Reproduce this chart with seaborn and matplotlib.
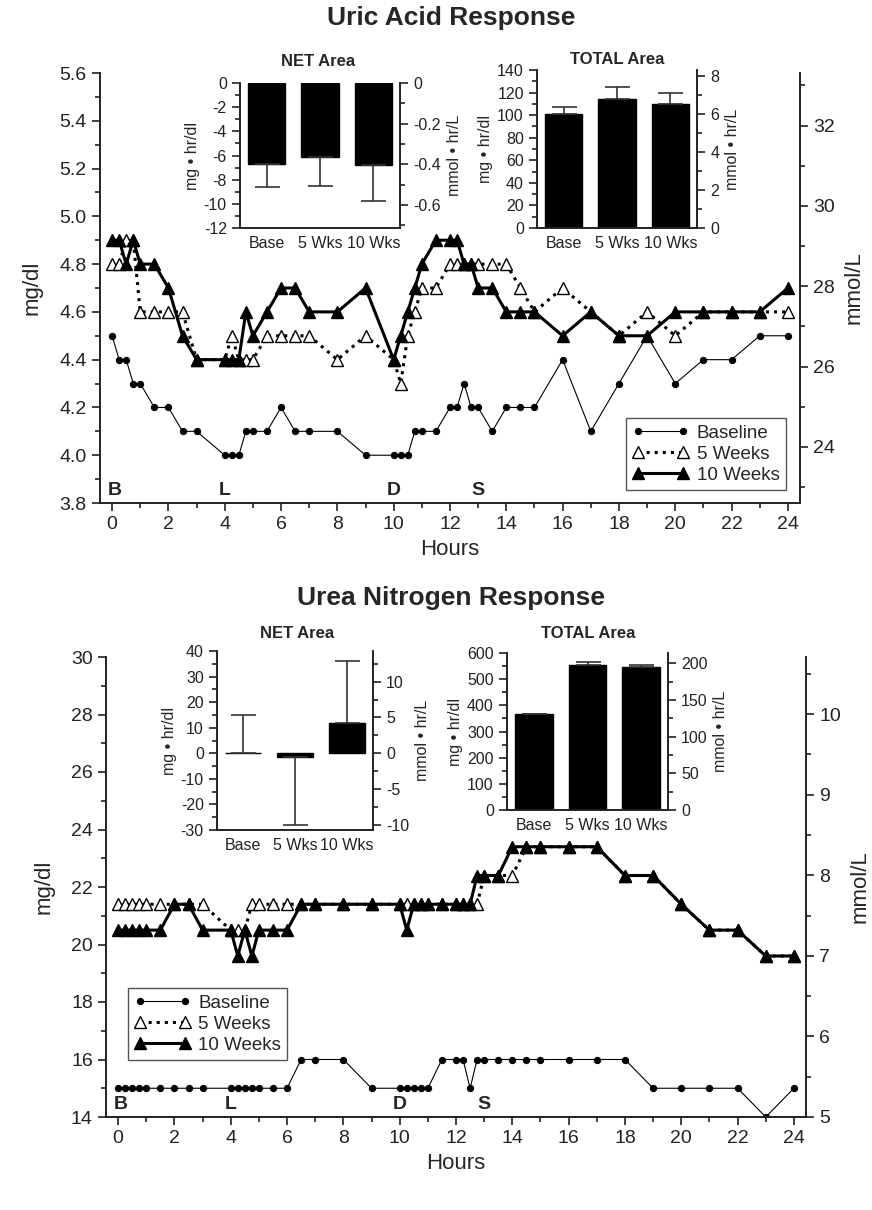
import matplotlib
matplotlib.use("Agg")
import matplotlib.pyplot as plt
from matplotlib.ticker import MultipleLocator, FuncFormatter
import seaborn as sns

# sampling times (hours)
hours = [0, 0.25, 0.5, 0.75, 1, 1.5, 2, 2.5, 3,
         4, 4.25, 4.5, 4.75, 5, 5.5, 6, 6.5, 7, 8, 9,
         10, 10.25, 10.5, 10.75, 11, 11.5, 12, 12.25, 12.5, 12.75, 13, 13.5, 14, 14.5, 15,
         16, 17, 18, 19, 20, 21, 22, 23, 24]

# uric acid, mg/dl
uric_base = [4.5, 4.4, 4.4, 4.3, 4.3, 4.2, 4.2, 4.1, 4.1,
             4.0, 4.0, 4.0, 4.1, 4.1, 4.1, 4.2, 4.1, 4.1, 4.1, 4.0,
             4.0, 4.0, 4.0, 4.1, 4.1, 4.1, 4.2, 4.2, 4.3, 4.2, 4.2, 4.1, 4.2, 4.2, 4.2,
             4.4, 4.1, 4.3, 4.5, 4.3, 4.4, 4.4, 4.5, 4.5]
uric_5wk = [4.8, 4.8, 4.9, 4.9, 4.6, 4.6, 4.6, 4.6, 4.4,
            4.4, 4.5, 4.4, 4.4, 4.4, 4.5, 4.5, 4.5, 4.5, 4.4, 4.5,
            4.4, 4.3, 4.5, 4.6, 4.7, 4.7, 4.8, 4.8, 4.8, 4.8, 4.8, 4.8, 4.8, 4.7, 4.6,
            4.7, 4.6, 4.5, 4.6, 4.5, 4.6, 4.6, 4.6, 4.6]
uric_10wk = [4.9, 4.9, 4.8, 4.9, 4.8, 4.8, 4.7, 4.5, 4.4,
             4.4, 4.4, 4.4, 4.6, 4.5, 4.6, 4.7, 4.7, 4.6, 4.6, 4.7,
             4.4, 4.5, 4.6, 4.7, 4.8, 4.9, 4.9, 4.9, 4.8, 4.8, 4.7, 4.7, 4.6, 4.6, 4.6,
             4.5, 4.6, 4.5, 4.5, 4.6, 4.6, 4.6, 4.6, 4.7]

# urea nitrogen, mg/dl
urea_base = [15, 15, 15, 15, 15, 15, 15, 15, 15,
             15, 15, 15, 15, 15, 15, 15, 16, 16, 16, 15,
             15, 15, 15, 15, 15, 16, 16, 16, 15, 16, 16, 16, 16, 16, 16,
             16, 16, 16, 15, 15, 15, 15, 14, 15]
urea_5wk = [21.4, 21.4, 21.4, 21.4, 21.4, 21.4, 21.4, 21.4, 21.4,
            20.5, 20.5, 20.5, 21.4, 21.4, 21.4, 21.4, 21.4, 21.4, 21.4, 21.4,
            21.4, 21.4, 21.4, 21.4, 21.4, 21.4, 21.4, 21.4, 21.4, 21.4, 22.4, 22.4, 22.4, 23.4, 23.4,
            23.4, 23.4, 22.4, 22.4, 21.4, 20.5, 20.5, 19.6, 19.6]
urea_10wk = [20.5, 20.5, 20.5, 20.5, 20.5, 20.5, 21.4, 21.4, 20.5,
             20.5, 19.6, 20.5, 19.6, 20.5, 20.5, 20.5, 21.4, 21.4, 21.4, 21.4,
             21.4, 20.5, 21.4, 21.4, 21.4, 21.4, 21.4, 21.4, 21.4, 22.4, 22.4, 22.4, 23.4, 23.4, 23.4,
             23.4, 23.4, 22.4, 22.4, 21.4, 20.5, 20.5, 19.6, 19.6]

# inset bar charts (bar value, end of error whisker)
area_labels = ["Base", "5 Wks", "10 Wks"]
uric_net = [-6.7, -6.1, -6.8]
uric_net_err = [-8.6, -8.5, -9.8]
uric_total = [101, 114, 110]
uric_total_err = [107, 125, 120]
urea_net = [0, -1.5, 12]
urea_net_err = [15, -28, 36]
urea_total = [365, 555, 545]
urea_total_err = [368, 565, 555]

meal_hours = [0.1, 4, 10, 13]
meal_labels = ["B", "L", "D", "S"]

W, H = 872, 1210
sns.set_style("ticks")
plt.rcParams['font.family'] = ['Liberation Sans', 'DejaVu Sans']
plt.rcParams['axes.edgecolor'] = '#222222'
plt.rcParams['axes.linewidth'] = 1.2

fig = plt.figure(figsize=(W / 100, H / 100), dpi=100)


def px_axes(x0, y0, x1, y1):
    return fig.add_axes([x0 / W, 1 - y1 / H, (x1 - x0) / W, (y1 - y0) / H])


def px_text(x, y, s, **kw):
    fig.text(x / W, 1 - y / H, s, ha='center', va='center', **kw)


def num_fmt(decimals):
    def f(v, _):
        if abs(v) < 1e-9:
            return "0"
        return f"{v:.{decimals}f}"
    return FuncFormatter(f)


def ticks(ax, size, **kw):
    ax.tick_params(which='major', length=6, width=1.2, labelsize=size, colors='#222222', **kw)
    ax.tick_params(which='minor', length=3.5, width=1.2, colors='#222222', **kw)


def response_chart(box, base, wk5, wk10, ylim, ystep, conv, rstep, ydec,
                   legend_loc, legend_anchor, text_y):
    ax = px_axes(*box)
    sns.lineplot(x=hours, y=base, ax=ax, color='black', linewidth=0.8, marker='o',
                 markersize=4.5, markeredgecolor='black', label='Baseline')
    sns.lineplot(x=hours, y=wk5, ax=ax, color='black', linewidth=2.2, linestyle=':',
                 marker='^', markersize=8, markerfacecolor='white',
                 markeredgecolor='black', markeredgewidth=1, label='5 Weeks')
    sns.lineplot(x=hours, y=wk10, ax=ax, color='black', linewidth=2.2, marker='^',
                 markersize=8, markeredgecolor='black', markeredgewidth=1, label='10 Weeks')
    ax.set_xlim(-0.43, 24.43)
    ax.set_ylim(*ylim)
    ax.xaxis.set_major_locator(MultipleLocator(2))
    ax.xaxis.set_minor_locator(MultipleLocator(1))
    ax.yaxis.set_major_locator(MultipleLocator(ystep))
    ax.yaxis.set_minor_locator(MultipleLocator(ystep / 2))
    ax.yaxis.set_major_formatter(num_fmt(ydec))
    ticks(ax, 14)
    ax.spines['top'].set_visible(False)
    ax.set_xlabel("Hours", fontsize=16, labelpad=4)
    ax.set_ylabel("mg/dl", fontsize=16, labelpad=12)
    for h, t in zip(meal_hours, meal_labels):
        ax.text(h, text_y, t, ha='center', va='bottom', fontsize=14, fontweight='bold')
    leg = ax.legend(loc=legend_loc, bbox_to_anchor=legend_anchor, borderaxespad=0,
                    numpoints=2, handlelength=3.0, fontsize=13.5, frameon=True,
                    fancybox=False, edgecolor='#555555', framealpha=1,
                    borderpad=0.35, labelspacing=0.2, handletextpad=0.4)
    leg.get_frame().set_linewidth(1.0)

    rax = ax.twinx()
    rax.set_ylim(ylim[0] * conv, ylim[1] * conv)
    rax.yaxis.set_major_locator(MultipleLocator(rstep))
    rax.yaxis.set_minor_locator(MultipleLocator(rstep / 2))
    ticks(rax, 14)
    rax.spines['top'].set_visible(False)
    rax.set_ylabel("mmol/L", fontsize=16, labelpad=6)
    return ax


def area_inset(box, vals, ends, ylim, ystep, conv, rstep, rdec, title, title_xy):
    ax = px_axes(*box)
    sns.barplot(x=area_labels, y=vals, color='black', saturation=1, width=0.7,
                edgecolor='black', linewidth=1, errorbar=None, ax=ax)
    lo = [max(v - e, 0) for v, e in zip(vals, ends)]
    hi = [max(e - v, 0) for v, e in zip(vals, ends)]
    ax.errorbar(range(len(vals)), vals, yerr=[lo, hi], fmt='none', ecolor='#333333',
                elinewidth=1.2, capsize=9, capthick=1.2)
    ax.set_xlim(-0.5, 2.5)
    ax.set_ylim(*ylim)
    ax.yaxis.set_major_locator(MultipleLocator(ystep))
    ax.yaxis.set_minor_locator(MultipleLocator(ystep / 2))
    ax.yaxis.set_major_formatter(num_fmt(0))
    ticks(ax, 11.5)
    ax.tick_params(axis='x', length=0, pad=6, labelsize=11.5)
    ax.spines['top'].set_visible(False)
    ax.set_xlabel("")
    ax.set_ylabel("mg • hr/dl", fontsize=11.5, labelpad=3)
    px_text(*title_xy, title, fontsize=12, fontweight='bold')

    rax = ax.twinx()
    rax.set_ylim(ylim[0] * conv, ylim[1] * conv)
    rax.yaxis.set_major_locator(MultipleLocator(rstep))
    rax.yaxis.set_minor_locator(MultipleLocator(rstep / 2))
    rax.yaxis.set_major_formatter(num_fmt(rdec))
    ticks(rax, 11.5)
    rax.spines['top'].set_visible(False)
    rax.set_ylabel("mmol • hr/L", fontsize=11.5, labelpad=4)
    return ax


# uric acid panel
px_text(451, 18, "Uric Acid Response", fontsize=19, fontweight='bold')
response_chart((100, 73, 800, 503), uric_base, uric_5wk, uric_10wk, (3.8, 5.6), 0.2,
               5.948, 2, 1, 'lower right', (0.98, 0.03), 3.815)
area_inset((240, 83, 400, 228), uric_net, uric_net_err, (-12, 0), 2, 0.05948, 0.2, 1,
           "NET Area", (318, 61))
area_inset((537, 70, 697, 228), uric_total, uric_total_err, (0, 140), 20, 0.05948, 2, 0,
           "TOTAL Area", (617, 60))

# urea nitrogen panel
px_text(451, 598, "Urea Nitrogen Response", fontsize=19, fontweight='bold')
response_chart((106, 657, 806, 1117), urea_base, urea_5wk, urea_10wk, (14, 30), 2,
               0.357, 1, 0, 'upper left', (0.031, 0.28), 14.15)
area_inset((217, 651, 373, 830), urea_net, urea_net_err, (-30, 40), 10, 0.357, 5, 0,
           "NET Area", (297, 633))
area_inset((507, 653, 668, 810), urea_total, urea_total_err, (0, 600), 100, 0.357, 50, 0,
           "TOTAL Area", (588, 633))

fig.savefig("out.png", dpi=100)
